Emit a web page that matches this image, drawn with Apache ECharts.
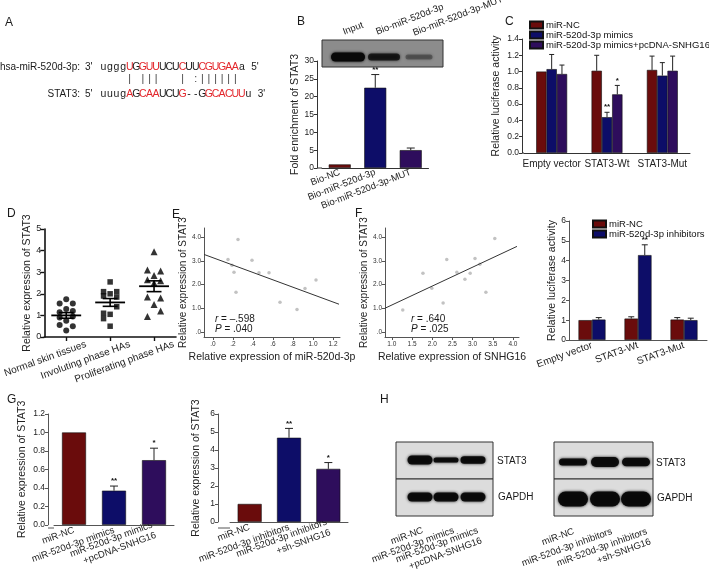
<!DOCTYPE html>
<html><head><meta charset="utf-8">
<script src="https://cdn.jsdelivr.net/npm/echarts@6/dist/echarts.min.js"></script>
<style>html,body{margin:0;padding:0;background:#fff}#c{width:709px;height:571px}</style>
</head><body><div id="c"></div>
<script>
// ---------------- DATA ----------------
// Panel A
const miLabel = 'hsa-miR-520d-3p:';
const miSeq = 'ugggUGGUUUCUCUUCGUGAAa';
const miRed = '0000101110001001111110';
const stLabel = 'STAT3:';
const stSeq = 'uuugAGCAAUCUG--GGCACUUu';
const stRed = '00001011100010001111110';
const pairMarks = '    | |||   | :||||||';
// Panel B
const bCats = ['Bio-NC', 'Bio-miR-520d-3p', 'Bio-miR-520d-3p-MUT'];
const bVals = [1.0, 22.5, 5.0];
const bErr = [1.0, 26.2, 5.6];
const bStars = ['', '**', ''];
const bLanes = ['Input', 'Bio-miR-520d-3p', 'Bio-miR-520d-3p-MUT'];
// Panel C
const cCats = ['Empty vector', 'STAT3-Wt', 'STAT3-Mut'];
const cNames = ['miR-NC', 'miR-520d-3p mimics', 'miR-520d-3p mimics+pcDNA-SNHG16'];
const cNC = [1.0, 1.01, 1.02];
const cNCErr = [1.0, 1.20, 1.19];
const cMim = [1.03, 0.44, 0.95];
const cMimErr = [1.21, 0.50, 1.11];
const cPc = [0.97, 0.72, 1.01];
const cPcErr = [1.08, 0.83, 1.19];
const cMimStars = ['', '**', ''];
const cPcStars = ['', '*', ''];
// Panel D  ([jitter, value])
const dCats = ['Normal skin tissues', 'Involuting phase HAs', 'Proliferating phase HAs'];
const dNormal = [[0,1.75],[-0.15,1.55],[0.15,1.55],[0,1.3],[-0.15,1.15],[0.15,1.2],[0.15,0.95],[-0.15,0.9],[0,0.75],[-0.15,0.55],[0.15,0.5],[0,0.3]];
const dInvol = [[0,2.55],[-0.15,2.1],[0.15,2.1],[0,2.0],[-0.15,1.9],[0.15,1.85],[0.15,1.4],[-0.15,1.1],[0,1.05],[-0.15,0.85],[0,0.5]];
const dProlif = [[0,3.95],[-0.15,3.1],[0.15,3.05],[0,2.85],[-0.15,2.65],[0.15,2.6],[0,2.5],[-0.15,1.85],[0.15,1.8],[0,1.5],[0.15,1.2],[-0.15,0.95]];
const dMeans = [1.0, 1.6, 2.35];
const dSem = [0.13, 0.18, 0.25];
// Panel E
const eX = [0.15, 0.25, 0.39, 0.21, 0.23, 0.46, 0.56, 0.67, 0.84, 0.92, 1.03, 0.19];
const eY = [3.07, 3.91, 3.03, 2.52, 1.68, 2.50, 2.50, 1.25, 0.95, 1.84, 2.20, 2.82];
const eFit = [[-0.09, 3.28], [1.26, 1.17]];
const eXTicks = [0, 0.2, 0.4, 0.6, 0.8, 1.0, 1.2];
const eStats = ['–.598', '.040'];
// Panel F
const fX = [1.27, 1.77, 1.99, 2.27, 2.36, 2.61, 2.81, 2.94, 3.06, 3.18, 3.33, 3.55];
const fY = [0.92, 2.48, 1.85, 1.22, 3.07, 2.52, 2.23, 2.48, 3.11, 2.86, 1.68, 3.95];
const fFit = [[0.83, 1.0], [4.1, 3.62]];
const fXTicks = [1.0, 1.5, 2.0, 2.5, 3.0, 3.5, 4.0];
const fStats = ['.640', '.025'];
const efYTicks = [0, 1, 2, 3, 4];
// Panel C2 (inhibitors)
const rCats = ['Empty vector', 'STAT3-Wt', 'STAT3-Mut'];
const rNames = ['miR-NC', 'miR-520d-3p inhibitors'];
const rNC = [1.0, 1.08, 1.03];
const rNCErr = [1.0, 1.17, 1.13];
const rInh = [1.03, 4.28, 1.0];
const rInhErr = [1.13, 4.8, 1.1];
const rInhStars = ['', '**', ''];
// Panel G
const g1Cats = ['miR-NC', 'miR-520d-3p mimics', 'miR-520d-3p mimics\n+pcDNA-SNHG16'];
const g1Vals = [1.0, 0.37, 0.70];
const g1Err = [1.0, 0.42, 0.83];
const g1Stars = ['', '**', '*'];
const g2Cats = ['miR-NC', 'miR-520d-3p inhibitors', 'miR-520d-3p inhibitors\n+sh-SNHG16'];
const g2Vals = [1.0, 4.68, 2.95];
const g2Err = [1.0, 5.2, 3.3];
const g2Stars = ['', '**', '*'];
// Panel H (relative band strengths)
const h1Lanes = ['miR-NC', 'miR-520d-3p mimics', 'miR-520d-3p mimics\n+pcDNA-SNHG16'];
const h2Lanes = ['miR-NC', 'miR-520d-3p inhibitors', 'miR-520d-3p inhibitors\n+sh-SNHG16'];
const hRows = ['STAT3', 'GAPDH'];
const h1Stat = [1.0, 0.35, 0.75];
const h1Gapdh = [1.0, 1.0, 1.0];
const h2Stat = [0.6, 1.0, 0.8];
const h2Gapdh = [1.0, 1.0, 1.0];
const bBlot = [1.0, 0.75, 0.3];

// ---------------- STYLE ----------------
const FONT = 'Arial, "Liberation Sans", Helvetica, sans-serif';
const MAROON = '#6a0c0c', NAVY = '#0d0d68', PURPLE = '#2e0d5c';
const INK = '#1a1a1a';
const G = [];

function txt(x, y, text, o) {
  o = o || {};
  G.push({type: 'text', x, y, rotation: (o.rot || 0) * Math.PI / 180, z: 20,
    style: {text, fill: o.color || INK, font: (o.st || '') + ' ' + (o.size || 10) + 'px ' + FONT,
      align: o.align || 'left', verticalAlign: o.va || 'middle', rich: o.rich, lineHeight: o.lh}});
}
function band(cx, cy, w, h, op) {
  G.push({type: 'rect', z: 6, shape: {x: cx - w / 2, y: cy - h / 2, width: w, height: h, r: h / 2},
    style: {fill: '#080808', opacity: op, shadowBlur: 3, shadowColor: 'rgba(0,0,0,0.9)'}});
}
function box(x, y, w, h, fill) {
  G.push({type: 'rect', z: 4, shape: {x, y, width: w, height: h}, style: {fill, stroke: '#333', lineWidth: 1}});
}
function seg(x1, y1, x2, y2, color) {
  G.push({type: 'line', z: 3, shape: {x1, y1, x2, y2}, style: {stroke: color, lineWidth: 1}});
}

// Panel letters
[['A', 5, 23], ['B', 297, 22], ['C', 505, 22], ['D', 7, 214], ['E', 172, 215], ['F', 355, 214], ['G', 7, 400], ['H', 380, 400]]
  .forEach(p => txt(p[1], p[2], p[0], {size: 12}));

// Panel A
const CW = 6.6, SX = 100;
txt(80, 67, miLabel, {align: 'right', size: 10});
txt(85, 67, "3'", {size: 10});
txt(80, 94, stLabel, {align: 'right', size: 10});
txt(85, 94, "5'", {size: 10});
for (let i = 0; i < miSeq.length; i++) txt(SX + CW * i + CW / 2, 67, miSeq[i], {align: 'center', size: 10.5, color: miRed[i] === '1' ? '#e3262b' : INK});
for (let i = 0; i < stSeq.length; i++) txt(SX + CW * i + CW / 2, 94, stSeq[i], {align: 'center', size: 10.5, color: stRed[i] === '1' ? '#e3262b' : INK});
for (let i = 0; i < pairMarks.length; i++) if (pairMarks[i] !== ' ') txt(SX + CW * i + CW / 2, 79.5, pairMarks[i], {align: 'center', size: 10.5, color: '#444'});
txt(SX + CW * miSeq.length + 6, 67, "5'", {size: 10});
txt(SX + CW * stSeq.length + 6, 94, "3'", {size: 10});

// Panel B blot
box(322, 40, 121, 27, '#8c8c8c');
[[348, 34, 9], [384, 32, 7], [419, 27, 5]].forEach((b, i) => band(b[0], 57, b[1], b[2], bBlot[i]));
[[345, 37], [378, 37], [415, 38]].forEach((p, i) => txt(p[0], p[1], bLanes[i], {rot: 21, va: 'bottom', size: 9.5}));

// Panel H blots
box(396, 442, 97, 37, '#dcdcdc'); box(396, 479, 97, 37, '#dcdcdc');
box(554, 442, 99, 37, '#dcdcdc'); box(554, 479, 99, 37, '#dcdcdc');
[420, 446, 473].forEach((x, i) => { band(x, 460, 25, 3 + 6 * h1Stat[i], 0.95); band(x, 497, 25, 9 * h1Gapdh[i], 0.95); });
[573, 605, 636].forEach((x, i) => { band(x, 462, 28, 3 + 7 * h2Stat[i], 0.95); band(x, 499, 30, 15 * h2Gapdh[i], 0.97); });
txt(497, 461, hRows[0], {size: 10}); txt(498, 497, hRows[1], {size: 10});
txt(656, 463, hRows[0], {size: 10}); txt(657, 498, hRows[1], {size: 10});
[[421, 525], [452, 525], [476, 525]].forEach((p, i) => txt(p[0], p[1], h1Lanes[i], {rot: 20, align: 'right', va: 'top', size: 9.5, lh: 11}));
[[572, 526], [610, 526], [645, 526]].forEach((p, i) => txt(p[0], p[1], h2Lanes[i], {rot: 20, align: 'right', va: 'top', size: 9.5, lh: 11}));

// E / F statistics text
const rich = {i: {fontStyle: 'italic', fontSize: 10, fontFamily: FONT, fill: INK}, n: {fontSize: 10, fontFamily: FONT, fill: INK}};
txt(215, 319, '{i|r}{n| = ' + eStats[0] + '}', {rich});
txt(215, 329, '{i|P}{n| = ' + eStats[1] + '}', {rich});
txt(411, 319, '{i|r}{n| = ' + fStats[0] + '}', {rich});
txt(411, 329, '{i|P}{n| = ' + fStats[1] + '}', {rich});

// x-axis stubs joining offset y-axes
seg(317, 168, 322, 168, '#333');
seg(522, 153, 524, 153, '#333');
seg(48, 528, 54, 528, '#555');
seg(218, 528, 230, 528, '#555');

// ---------------- AXES HELPERS ----------------
function yBar(gi, max, interval, dec, name, gap, offset, color) {
  return {type: 'value', gridIndex: gi, min: 0, max, interval, offset: offset || 0,
    axisLine: {show: true, onZero: false, lineStyle: {color: color || '#333', width: 1}},
    axisTick: {show: true, length: 3, lineStyle: {color: color || '#333'}},
    splitLine: {show: false},
    axisLabel: {fontSize: 8.5, color: '#222', fontFamily: FONT, margin: 3, formatter: v => v.toFixed(dec)},
    name, nameLocation: 'middle', nameGap: gap, nameRotate: 90,
    nameTextStyle: {fontSize: 10.5, color: '#222', fontFamily: FONT}};
}
function xCat(gi, data, rotate, fs, margin, color) {
  return {type: 'category', gridIndex: gi, data,
    axisLine: {onZero: false, lineStyle: {color: color || '#333'}}, axisTick: {show: false},
    axisLabel: {rotate, fontSize: fs, color: '#222', fontFamily: FONT, margin, interval: 0, lineHeight: 11}};
}
const dotFmt = v => { const s = v.toFixed(1); return v < 1 ? s.replace(/^0/, '') : s; };
function xVal(gi, min, max, ticks, fmt, name) {
  return {type: 'value', gridIndex: gi, min, max, splitLine: {show: false},
    axisLine: {onZero: false, lineStyle: {color: '#555'}},
    axisTick: {show: true, length: 3, customValues: ticks, lineStyle: {color: '#555'}},
    axisLabel: {customValues: ticks, formatter: fmt, fontSize: 6.5, color: '#333', margin: 4, fontFamily: FONT},
    name, nameLocation: 'middle', nameGap: 15, nameTextStyle: {fontSize: 10.5, color: '#222', fontFamily: FONT}};
}
function yVal(gi, min, max, ticks, fmt, name, gap) {
  return {type: 'value', gridIndex: gi, min, max, splitLine: {show: false},
    axisLine: {show: true, onZero: false, lineStyle: {color: '#555'}},
    axisTick: {show: true, length: 3, customValues: ticks, lineStyle: {color: '#555'}},
    axisLabel: {customValues: ticks, formatter: fmt, fontSize: 6.5, color: '#333', margin: 3, fontFamily: FONT},
    name, nameLocation: 'middle', nameGap: gap, nameRotate: 90,
    nameTextStyle: {fontSize: 10, color: '#222', fontFamily: FONT}};
}
function barS(name, gi, vals, color, barWidth) {
  return {type: 'bar', name, xAxisIndex: gi, yAxisIndex: gi, barWidth, barGap: '0%', data: vals,
    itemStyle: {color: Array.isArray(color) ? (p => color[p.dataIndex]) : color, borderColor: '#111', borderWidth: 0.6}};
}
function errS(gi, vals, errs, stars, slot, nslots, barW, cap) {
  return {type: 'custom', xAxisIndex: gi, yAxisIndex: gi, z: 5, silent: true,
    data: vals.map((v, i) => [i, v, errs[i]]),
    renderItem(params, api) {
      const i = api.value(0), v = api.value(1), e = api.value(2);
      const s = (stars && stars[params.dataIndex]) || '';
      const b = api.coord([i, v]), t = api.coord([i, e]);
      const x = b[0] + (slot - (nslots - 1) / 2) * barW;
      const ch = [];
      if (e > v + 1e-9) {
        ch.push({type: 'line', shape: {x1: x, y1: b[1], x2: x, y2: t[1]}, style: {stroke: '#222', lineWidth: 1}});
        ch.push({type: 'line', shape: {x1: x - cap, y1: t[1], x2: x + cap, y2: t[1]}, style: {stroke: '#222', lineWidth: 1}});
      }
      if (s) ch.push({type: 'text', x, y: t[1] - 1, style: {text: s, fill: '#111', font: 'bold 8px ' + FONT, align: 'center', verticalAlign: 'bottom'}});
      return {type: 'group', children: ch};
    }};
}

const grids = [
  {left: 322, top: 61, width: 106.5, height: 107},   // B
  {left: 524, top: 39, width: 166, height: 114},     // C
  {left: 35, top: 229, width: 141, height: 108},     // D
  {left: 204, top: 228, width: 136, height: 109},    // E
  {left: 385, top: 228, width: 134, height: 109},    // F
  {left: 569, top: 221, width: 138, height: 119},    // C2
  {left: 54, top: 414, width: 120, height: 114},     // G1
  {left: 230, top: 414, width: 118, height: 114}     // G2
];

const dLabelPos = [1.45, 2.45, 3.45];
const xAxes = [
  xCat(0, bCats, 21, 9.5, 4),
  xCat(1, cCats, 0, 10, 6),
  {type: 'value', gridIndex: 2, min: 0.5, max: 3.5, splitLine: {show: false},
    axisLine: {onZero: false, lineStyle: {color: '#111', width: 1.6}},
    axisTick: {show: true, length: 4, customValues: [1, 2, 3], lineStyle: {color: '#111', width: 1.4}},
    axisLabel: {customValues: dLabelPos, formatter: v => dCats[Math.round(v - 0.45) - 1], rotate: 20, fontSize: 10, color: '#222', fontFamily: FONT, margin: 7}},
  xVal(3, -0.09, 1.27, eXTicks, dotFmt, 'Relative expression of miR-520d-3p'),
  xVal(4, 0.83, 4.15, fXTicks, v => v.toFixed(1), 'Relative expression of SNHG16'),
  xCat(5, rCats, 20, 10, 5, '#555'),
  xCat(6, g1Cats, 20, 9.5, 5, '#555'),
  xCat(7, g2Cats, 20, 9.5, 5, '#555')
];
const yAxes = [
  yBar(0, 30, 5, 0, 'Fold enrichment of STAT3', 14, 5),
  yBar(1, 1.4, 0.2, 1, 'Relative luciferase activity', 20, 2),
  {type: 'value', gridIndex: 2, min: 0, max: 5, interval: 1, splitLine: {show: false},
    axisLine: {show: true, onZero: false, lineStyle: {color: '#111', width: 1.6}},
    axisTick: {show: true, length: 4, lineStyle: {color: '#111', width: 1.4}},
    axisLabel: {fontSize: 9, color: '#222', fontFamily: FONT, margin: 3},
    name: 'Relative expression of STAT3', nameLocation: 'middle', nameGap: 12, nameRotate: 90,
    nameTextStyle: {fontSize: 10.5, color: '#222', fontFamily: FONT}},
  yVal(3, -0.22, 4.4, efYTicks, dotFmt, 'Relative expression of STAT3', 13),
  yVal(4, -0.22, 4.4, efYTicks, dotFmt, 'Relative expression of STAT3', 13),
  yBar(5, 6, 1, 0, 'Relative luciferase activity', 11, 0, '#555'),
  yBar(6, 1.2, 0.2, 1, 'Relative expression of STAT3', 20, 6, '#555'),
  yBar(7, 6, 1, 0, 'Relative expression of STAT3', 16, 12, '#555')
];

const series = [
  // B
  barS('B', 0, bVals, [MAROON, NAVY, PURPLE], 22),
  errS(0, bVals, bErr, bStars, 0, 1, 22, 4),
  // C
  barS(cNames[0], 1, cNC, MAROON, 10.3),
  barS(cNames[1], 1, cMim, NAVY, 10.3),
  barS(cNames[2], 1, cPc, PURPLE, 10.3),
  errS(1, cNC, cNCErr, null, 0, 3, 10.3, 2.5),
  errS(1, cMim, cMimErr, cMimStars, 1, 3, 10.3, 2.5),
  errS(1, cPc, cPcErr, cPcStars, 2, 3, 10.3, 2.5),
  // D
  {type: 'scatter', xAxisIndex: 2, yAxisIndex: 2, symbol: 'circle', symbolSize: 6, itemStyle: {color: '#000'}, data: dNormal.map(p => [1 + p[0], p[1]])},
  {type: 'scatter', xAxisIndex: 2, yAxisIndex: 2, symbol: 'rect', symbolSize: 5.5, itemStyle: {color: '#000'}, data: dInvol.map(p => [2 + p[0], p[1]])},
  {type: 'scatter', xAxisIndex: 2, yAxisIndex: 2, symbol: 'triangle', symbolSize: 7, itemStyle: {color: '#000'}, data: dProlif.map(p => [3 + p[0], p[1]])},
  {type: 'custom', xAxisIndex: 2, yAxisIndex: 2, silent: true, z: 4,
    data: dMeans.map((m, i) => [i + 1, m, dSem[i]]),
    renderItem(p, api) {
      const x = api.value(0), m = api.value(1), s = api.value(2);
      const a = api.coord([x - 0.34, m]), b = api.coord([x + 0.34, m]);
      const lo = api.coord([x, m - s]), hi = api.coord([x, m + s]);
      const cl = api.coord([x - 0.17, m])[0], cr = api.coord([x + 0.17, m])[0];
      const st = {stroke: '#000', lineWidth: 1.6};
      return {type: 'group', children: [
        {type: 'line', shape: {x1: a[0], y1: a[1], x2: b[0], y2: b[1]}, style: {stroke: '#000', lineWidth: 1.8}},
        {type: 'line', shape: {x1: lo[0], y1: lo[1], x2: hi[0], y2: hi[1]}, style: st},
        {type: 'line', shape: {x1: cl, y1: lo[1], x2: cr, y2: lo[1]}, style: st},
        {type: 'line', shape: {x1: cl, y1: hi[1], x2: cr, y2: hi[1]}, style: st}]};
    }},
  // E
  {type: 'scatter', xAxisIndex: 3, yAxisIndex: 3, symbolSize: 3.5, itemStyle: {color: '#b3b3b3'}, data: eX.map((x, i) => [x, eY[i]])},
  {type: 'line', xAxisIndex: 3, yAxisIndex: 3, symbol: 'none', lineStyle: {color: '#333', width: 1}, data: eFit},
  // F
  {type: 'scatter', xAxisIndex: 4, yAxisIndex: 4, symbolSize: 3.5, itemStyle: {color: '#b3b3b3'}, data: fX.map((x, i) => [x, fY[i]])},
  {type: 'line', xAxisIndex: 4, yAxisIndex: 4, symbol: 'none', lineStyle: {color: '#333', width: 1}, data: fFit},
  // C2
  barS(rNames[0], 5, rNC, MAROON, 13.5),
  barS(rNames[1], 5, rInh, NAVY, 13.5),
  errS(5, rNC, rNCErr, null, 0, 2, 13.5, 3),
  errS(5, rInh, rInhErr, rInhStars, 1, 2, 13.5, 3),
  // G1
  barS('G1', 6, g1Vals, [MAROON, NAVY, PURPLE], 24),
  errS(6, g1Vals, g1Err, g1Stars, 0, 1, 24, 4),
  // G2
  barS('G2', 7, g2Vals, [MAROON, NAVY, PURPLE], 24),
  errS(7, g2Vals, g2Err, g2Stars, 0, 1, 24, 4)
];

const legendBase = {orient: 'vertical', itemWidth: 13, itemHeight: 7, itemGap: 0, icon: 'rect',
  textStyle: {fontSize: 9.5, color: '#111', fontFamily: FONT, lineHeight: 8, padding: [0, 0, 0, -2]}, padding: 0};
const option = {
  animation: false,
  backgroundColor: '#fff',
  textStyle: {fontFamily: FONT},
  grid: grids,
  xAxis: xAxes,
  yAxis: yAxes,
  legend: [
    Object.assign({}, legendBase, {left: 529, top: 20, data: cNames}),
    Object.assign({}, legendBase, {left: 592, top: 219, data: rNames})
  ],
  series,
  graphic: {elements: G}
};
const chart = echarts.init(document.getElementById('c'), null, {width: 709, height: 571});
chart.setOption(option);
</script>
</body></html>
